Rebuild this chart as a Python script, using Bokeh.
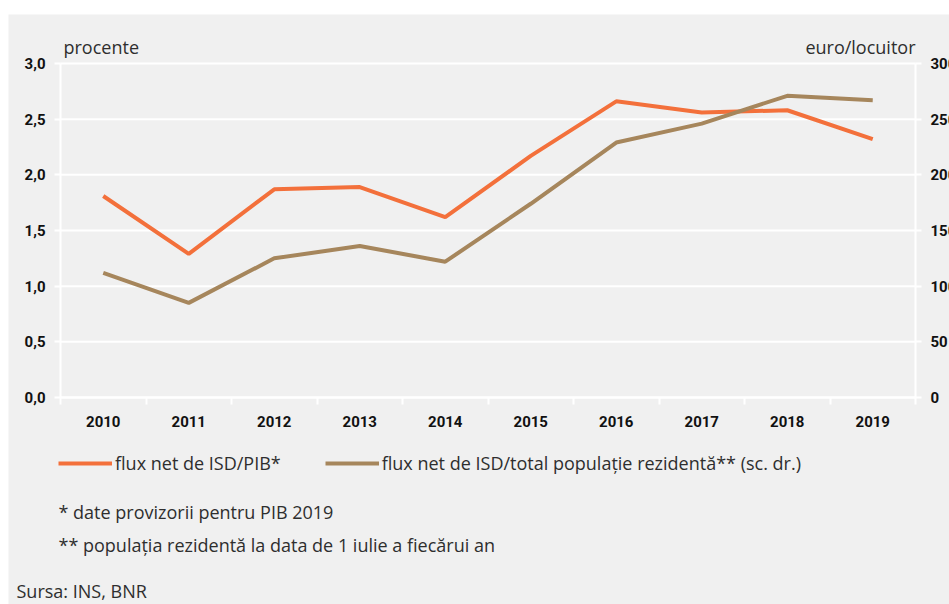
from bokeh.plotting import figure
from bokeh.models import (Range1d, LinearAxis, FixedTicker, Legend, LegendItem,
                          Label, ColumnDataSource)
from bokeh.embed import file_html
from bokeh.resources import INLINE

# ---- data ----
years = ["2010", "2011", "2012", "2013", "2014", "2015", "2016", "2017", "2018", "2019"]
isd_pib = [1.81, 1.29, 1.87, 1.89, 1.62, 2.17, 2.66, 2.56, 2.58, 2.32]
isd_pop = [112, 85, 125, 136, 122, 174, 229, 246, 271, 267]
left_ticks = [0.0, 0.5, 1.0, 1.5, 2.0, 2.5, 3.0]
left_labels = ["0,0", "0,5", "1,0", "1,5", "2,0", "2,5", "3,0"]
right_ticks = [0, 50, 100, 150, 200, 250, 300]
right_labels = ["0", "50", "100", "150", "200", "250", "300"]

# ---- layout (pixels) ----
W, H = 949, 604
LEFT, TOP = 8, 14                # white strips (left / top)
FW, FH = W - LEFT, H - TOP       # frame covers the rest
PL, PR = 52, 907                 # plot box left/right inside frame
PT, PB = 49, 383                 # plot box top/bottom inside frame
n = len(years)
ymax_l = 3.0
ux = n / (PR - PL)
uy = ymax_l / (PB - PT)
x_range = Range1d(-PL * ux, n + (FW - PR) * ux)
y_range = Range1d(-(FH - PB) * uy, ymax_l + PT * uy)
r_scale = 100.0
eur_range = Range1d(y_range.start * r_scale, y_range.end * r_scale)

BG = "#f0f0f0"
ORANGE = "#f3703b"
BROWN = "#a6865c"
TICK_FONT = "Roboto"
TEXT_FONT = "Open Sans"
TEXT_COLOR = "#2e2e2e"
TEXT_SIZE = "18px"

xc = [i + 0.5 for i in range(n)]
src = ColumnDataSource(dict(x=xc, pib=isd_pib, pop=isd_pop))
grid_src = ColumnDataSource(dict(x0=[0] * len(left_ticks), x1=[n] * len(left_ticks), y=left_ticks))

p = figure(width=W, height=H, output_backend="svg", toolbar_location=None,
           x_range=x_range, y_range=y_range,
           min_border_left=LEFT, min_border_right=0, min_border_top=TOP, min_border_bottom=0)
p.extra_y_ranges = {"eur": eur_range}
p.background_fill_color = BG
p.border_fill_color = "white"
p.outline_line_color = None
p.xgrid.visible = False
p.ygrid.visible = False

# horizontal grid lines within the plot box
p.segment(x0="x0", x1="x1", y0="y", y1="y", source=grid_src, line_color="white", line_width=2)

def style_axis(ax):
    ax.major_label_text_font = TICK_FONT
    ax.major_label_text_font_style = "bold"
    ax.major_label_text_font_size = "15px"
    ax.major_label_text_color = "#111111"
    ax.axis_line_color = "white"
    ax.axis_line_width = 2
    ax.major_tick_line_color = "white"
    ax.major_tick_line_width = 2

# x axis: labels at centers, minor ticks at boundaries
xa = p.xaxis[0]
style_axis(xa)
xa.fixed_location = 0
xa.bounds = (0, n)
xa.ticker = FixedTicker(ticks=xc, minor_ticks=list(range(n + 1)))
xa.major_label_overrides = {v: y for v, y in zip(xc, years)}
xa.major_tick_out = 0
xa.major_tick_in = 0
xa.minor_tick_out = 7
xa.minor_tick_in = 0
xa.minor_tick_line_color = "white"
xa.minor_tick_line_width = 2
xa.major_label_standoff = 11

ya = p.yaxis[0]
style_axis(ya)
ya.fixed_location = 0
ya.bounds = (0, ymax_l)
ya.ticker = FixedTicker(ticks=left_ticks)
ya.major_label_overrides = {v: l for v, l in zip(left_ticks, left_labels)}
ya.minor_tick_line_color = None
ya.major_tick_out = 6
ya.major_tick_in = 0
ya.major_label_standoff = 9

ra = LinearAxis(y_range_name="eur", ticker=FixedTicker(ticks=right_ticks))
style_axis(ra)
ra.fixed_location = n
ra.bounds = (0, ymax_l * r_scale)
ra.major_label_overrides = {v: l for v, l in zip(right_ticks, right_labels)}
ra.minor_tick_line_color = None
ra.major_tick_out = 6
ra.major_tick_in = 0
ra.major_label_standoff = 9
p.add_layout(ra, "right")

r1 = p.line("x", "pib", source=src, line_color=ORANGE, line_width=4)
r2 = p.line("x", "pop", source=src, line_color=BROWN, line_width=4, y_range_name="eur")

legend = Legend(items=[LegendItem(label="flux net de ISD/PIB*", renderers=[r1]),
                       LegendItem(label="flux net de ISD/total populație rezidentă** (sc. dr.)", renderers=[r2])],
                orientation="horizontal", location=(PL - 2, 129),
                padding=0, margin=0, spacing=44, glyph_width=54, glyph_height=20,
                label_standoff=3, background_fill_alpha=0, border_line_alpha=0,
                label_text_font=TEXT_FONT, label_text_font_size=TEXT_SIZE,
                label_text_color=TEXT_COLOR)
p.add_layout(legend, "center")

def lab(text, x, y, xo, yo, align="left", base="alphabetic"):
    p.add_layout(Label(x=x, y=y, x_offset=xo, y_offset=yo, text=text,
                       text_align=align, text_baseline=base,
                       text_font=TEXT_FONT, text_font_size=TEXT_SIZE, text_color=TEXT_COLOR))

lab("procente", 0, ymax_l, 3, 17)
lab("euro/locuitor", n, ymax_l, 0, 17, align="right")
lab("* date provizorii pentru PIB 2019", 0, 0, -2, -114, base="middle")
lab("** populația rezidentă la data de 1 iulie a fiecărui an", 0, 0, -2, -147, base="middle")
lab("Sursa: INS, BNR", 0, 0, -44, -193, base="middle")

open("out.html", "w").write(file_html(p, INLINE))
